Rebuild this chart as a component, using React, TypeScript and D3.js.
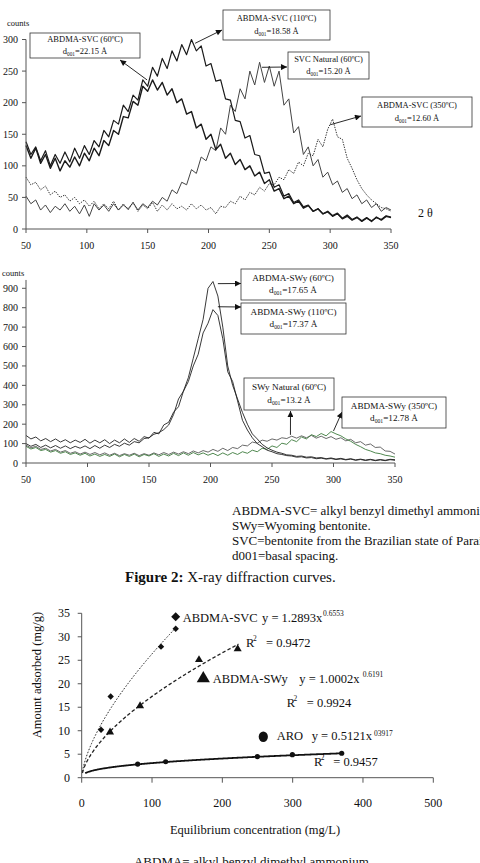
import * as d3 from "d3";

// 2θ sampling grid shared by every XRD trace
const twoTheta = d3.range(50, 351, 4);

// Figure 2, top: SVC samples (counts)
const svc60 = [132,112,128,104,118,96,112,92,108,98,114,100,120,108,128,116,140,132,156,150,178,176,202,196,226,218,236,220,232,212,222,200,206,182,186,160,166,142,150,126,134,112,120,102,110,94,100,84,90,72,78,60,64,48,52,40,44,33,37,28,32,24,28,21,25,17,22,15,19,13,18,12,19,14,20,18];
const svc110 = [138,118,130,108,124,100,118,104,122,106,128,112,132,118,140,130,156,146,172,166,196,186,212,204,236,226,256,242,270,254,282,266,292,276,300,282,290,258,262,234,236,206,204,172,170,144,148,118,116,88,90,66,70,52,56,42,46,35,38,28,32,24,27,20,24,16,20,14,18,12,17,13,18,15,21,19];
const svcNatural = [52,40,46,30,38,26,36,30,40,28,36,24,38,20,40,30,38,28,40,30,38,32,42,30,40,34,44,38,50,44,62,56,74,70,94,88,114,108,130,124,160,150,196,186,222,206,250,228,264,232,258,226,250,196,206,152,162,118,130,100,110,82,90,70,76,58,64,48,54,40,46,34,40,28,34,30];
const svc350 = [82,70,74,62,68,54,60,50,54,44,50,40,46,36,44,32,40,32,44,30,40,30,42,28,38,32,42,28,38,30,40,32,36,30,40,32,38,30,34,24,36,34,44,40,52,46,58,54,66,60,72,70,82,78,94,88,106,100,120,116,142,130,158,174,146,142,112,96,78,64,54,46,40,34,32,28];

// Figure 2, middle: SWy samples (counts)
const swy60 = [142,124,134,114,126,110,124,108,120,104,118,106,122,102,118,104,120,100,118,104,124,106,126,112,136,128,158,150,196,210,262,290,370,440,540,640,740,900,935,860,700,500,400,330,260,200,150,124,96,78,66,56,50,42,40,34,36,30,32,26,28,22,26,20,24,18,22,16,20,15,19,14,18,14,19,17];
const swy110 = [100,86,96,80,92,78,90,76,88,74,86,76,88,74,90,76,92,80,96,86,102,92,110,104,126,130,148,156,172,196,250,330,370,420,500,560,670,720,790,760,640,470,420,320,220,170,130,100,84,66,58,48,44,38,36,30,32,26,28,22,25,20,23,18,21,16,20,14,18,13,17,12,16,12,17,14];
const swyNatural = [92,78,86,70,76,62,70,56,64,50,58,46,56,44,54,42,52,40,50,38,48,40,50,38,48,40,52,42,54,44,56,46,58,48,62,52,64,56,70,60,76,64,80,74,92,88,108,102,118,112,124,118,130,126,138,128,140,130,142,128,138,126,136,122,130,114,122,104,110,92,98,80,82,62,60,46];
const swy350 = [86,72,80,64,70,56,64,50,58,44,52,40,50,36,46,34,44,34,46,32,44,34,46,32,44,36,48,34,46,36,50,38,52,40,54,42,52,40,50,38,52,40,54,44,58,50,66,58,76,70,88,80,102,96,120,110,134,124,146,136,152,140,162,150,140,124,112,96,84,70,62,52,48,40,36,30];

const xrdTicks = [50, 100, 150, 200, 250, 300, 350];
const svcCountTicks = [0, 50, 100, 150, 200, 250, 300];
const swyCountTicks = [0, 100, 200, 300, 400, 500, 600, 700, 800, 900];

// Figure 3: adsorption isotherms
const svcConc = [27.5, 41.2, 112.8, 133.7];
const svcAds = [10.2, 17.3, 27.9, 31.7];
const swyConc = [40.3, 83, 166.8, 221.8];
const swyAds = [9.7, 15.3, 25.1, 27.4];
const aroConc = [79.6, 119.4, 249.8, 299.6, 369.7];
const aroAds = [2.9, 3.4, 4.5, 4.9, 5.2];
const fitK = [1.2893, 1.0002, 0.5121];
const fitN = [0.6553, 0.6191, 0.3917];
const fitNLabel = ["0.6553", "0.6191", "03917"];
const fitR2 = ["0.9472", "0.9924", "0.9457"];
const fitMaxX = [136, 223, 372];
const concTicks = [0, 100, 200, 300, 400, 500];
const adsTicks = [0, 5, 10, 15, 20, 25, 30, 35];

const FONT = "'Liberation Serif', 'Times New Roman', serif";

function Tag({ x, y, w, h, title, d, fs }) {
  const cx = x + w / 2;
  const c = y + h / 2;
  return (
    <g>
      <rect x={x} y={y} width={w} height={h} fill="#fff" stroke="#333" strokeWidth={0.8} />
      <text x={cx} y={c - 4} textAnchor="middle" fontSize={fs}>{title}</text>
      <text x={cx} y={c + 8.5} textAnchor="middle" fontSize={fs}>
        d<tspan dy={2} fontSize={fs * 0.62}>001</tspan>
        <tspan dy={-2}>={d} Å</tspan>
      </text>
    </g>
  );
}

function Xrd({ top, bottom, right, ymax, yTicks, series, tags, arrows }) {
  const x = d3.scaleLinear().domain([50, 350]).range([26, right]);
  const y = d3.scaleLinear().domain([0, ymax[0]]).range([bottom, top]);
  const axisTop = y(ymax[1]);
  return (
    <g>
      {series.map((s, i) => {
        const line = d3
          .line<number>()
          .x((_, j) => x(twoTheta[j]))
          .y((v) => y(v));
        return (
          <path key={i} d={line(s.values) || ""} fill="none" stroke={s.color}
            strokeWidth={s.width} strokeDasharray={s.dash} strokeLinejoin="round" />
        );
      })}
      <line x1={26} x2={26} y1={bottom} y2={axisTop} stroke="#555" />
      <line x1={26} x2={right} y1={bottom} y2={bottom} stroke="#555" />
      {yTicks.map((t) => (
        <g key={"y" + t}>
          <line x1={22} x2={26} y1={y(t)} y2={y(t)} stroke="#555" />
          <text x={18} y={y(t) + 3.5} textAnchor="end" fontSize={10}>{t}</text>
        </g>
      ))}
      {xrdTicks.map((t) => (
        <g key={"x" + t}>
          <line x1={x(t)} x2={x(t)} y1={bottom} y2={bottom + 4} stroke="#555" />
          <text x={x(t)} y={bottom + 20} textAnchor="middle" fontSize={10}>{t}</text>
        </g>
      ))}
      {arrows.map((a, i) => (
        <line key={i} x1={x(a.from[0])} y1={y(a.from[1])} x2={a.to[0]} y2={a.to[1]}
          stroke="#111" strokeWidth={0.9} markerEnd="url(#ah)" />
      ))}
      {tags.map((t, i) => (
        <Tag key={i} {...t} />
      ))}
    </g>
  );
}

function Isotherm() {
  const x = d3.scaleLinear().domain([0, 500]).range([81.7, 433.3]);
  const y = d3.scaleLinear().domain([0, 35]).range([777.7, 613.3]);
  const fits = fitK.map((k, i) => {
    const xs = d3.range(i === 2 ? 5 : 1, fitMaxX[i] + 0.01, 1);
    return d3
      .line<number>()
      .x((c) => x(c))
      .y((c) => y(k * Math.pow(c, fitN[i])))(xs) || "";
  });
  const tri = d3.symbol(d3.symbolTriangle, 28)() || "";
  const bigTri = d3.symbol(d3.symbolTriangle, 75)() || "";
  return (
    <g>
      <path d={fits[0]} fill="none" stroke="#222" strokeWidth={1} strokeDasharray="1.6 1.6" />
      <path d={fits[1]} fill="none" stroke="#222" strokeWidth={1.3} strokeDasharray="3.5 2.2" />
      <path d={fits[2]} fill="none" stroke="#111" strokeWidth={1.8} />
      <line x1={x(0)} x2={x(0)} y1={y(0)} y2={y(35)} stroke="#555" />
      <line x1={x(0)} x2={x(500)} y1={y(0)} y2={y(0)} stroke="#555" />
      {adsTicks.map((t) => (
        <g key={"y" + t}>
          <line x1={x(0) - 4} x2={x(0)} y1={y(t)} y2={y(t)} stroke="#555" />
          <text x={70} y={y(t) + 4} textAnchor="end" fontSize={12}>{t}</text>
        </g>
      ))}
      {concTicks.map((t) => (
        <g key={"x" + t}>
          <line x1={x(t)} x2={x(t)} y1={y(0)} y2={y(0) + 5} stroke="#555" />
          <text x={x(t)} y={807} textAnchor="middle" fontSize={12}>{t}</text>
        </g>
      ))}
      {svcConc.map((c, i) => (
        <path key={"d" + i} d={`M0,-3.2L3.2,0L0,3.2L-3.2,0Z`}
          transform={`translate(${x(c)},${y(svcAds[i])})`} fill="#111" />
      ))}
      {swyConc.map((c, i) => (
        <path key={"t" + i} d={tri} transform={`translate(${x(c)},${y(swyAds[i])})`} fill="#111" />
      ))}
      {aroConc.map((c, i) => (
        <circle key={"c" + i} cx={x(c)} cy={y(aroAds[i])} r={2.6} fill="#111" />
      ))}
      <path d="M0,-4.5L4.5,0L0,4.5L-4.5,0Z" transform="translate(175.7,616.7)" fill="#111" />
      <path d={bigTri} transform="translate(203.3,678.5)" fill="#111" />
      <ellipse cx={263.3} cy={736.7} rx={4.6} ry={5.2} fill="#111" />
      <g fontSize={12.5}>
        <text x={182.7} y={621.5}>ABDMA-SVC</text>
        <text x={262} y={621.5}>y = {fitK[0]}x</text>
        <text x={323} y={616} fontSize={7.5}>{fitNLabel[0]}</text>
        <text x={246} y={647}>R</text>
        <text x={253} y={641} fontSize={7.5}>2</text>
        <text x={266} y={647}>= {fitR2[0]}</text>

        <text x={212.7} y={682.5}>ABDMA-SWy</text>
        <text x={299.3} y={682.5}>y = {fitK[1].toFixed(4)}x</text>
        <text x={362.7} y={677} fontSize={7.5}>{fitNLabel[1]}</text>
        <text x={286.7} y={707}>R</text>
        <text x={293.5} y={701} fontSize={7.5}>2</text>
        <text x={306.7} y={707}>= {fitR2[1]}</text>

        <text x={276.7} y={740}>ARO</text>
        <text x={311.7} y={740}>y = {fitK[2]}x</text>
        <text x={374} y={735.5} fontSize={7.5}>{fitNLabel[2]}</text>
        <text x={314} y={766}>R</text>
        <text x={320.8} y={760} fontSize={7.5}>2</text>
        <text x={333.3} y={766}>= {fitR2[2]}</text>
      </g>
      <text transform="translate(41,675) rotate(-90)" textAnchor="middle" fontSize={12.5}>
        Amount adsorbed (mg/g)
      </text>
      <text x={255} y={834} textAnchor="middle" fontSize={12.5}>
        Equilibrium concentration (mg/L)
      </text>
      <text x={253} y={866} textAnchor="middle" fontSize={13}>
        ABDMA= alkyl benzyl dimethyl ammonium.
      </text>
    </g>
  );
}

export default function App() {
  const dark = "#1a1a1a";
  return (
    <svg width={480} height={863} viewBox="0 0 480 863"
      style={{ position: "absolute", left: 0, top: 0, display: "block", background: "#fff" }}
      fontFamily={FONT} fill="#111">
      <defs>
        <marker id="ah" viewBox="0 0 10 10" refX={10} refY={5} markerWidth={7} markerHeight={6}
          markerUnits="userSpaceOnUse" orient="auto">
          <path d="M0,0L10,5L0,10Z" fill="#111" />
        </marker>
      </defs>
      <rect width={480} height={863} fill="#fff" />

      <text x={7} y={26} fontSize={8.5}>counts</text>
      <text x={418} y={217} fontSize={12}>2 θ</text>
      <Xrd
        top={39.5} bottom={229} right={391} ymax={[300, 300]} yTicks={svcCountTicks}
        series={[
          { values: svcNatural, color: "#444", width: 1, dash: null },
          { values: svc350, color: "#333", width: 1, dash: "1.4 1.2" },
          { values: svc60, color: dark, width: 1.4, dash: null },
          { values: svc110, color: dark, width: 1.2, dash: null },
        ]}
        arrows={[
          { from: [149.5, 236], to: [120, 60] },
          { from: [189, 294], to: [222, 30] },
          { from: [244, 256], to: [287, 67] },
          { from: [300, 165], to: [361, 116] },
        ]}
        tags={[
          { x: 30, y: 33, w: 110, h: 25, title: "ABDMA-SVC (60ºC)", d: "22.15", fs: 8.5 },
          { x: 223, y: 10, w: 107, h: 30, title: "ABDMA-SVC (110ºC)", d: "18.58", fs: 8.5 },
          { x: 288, y: 52, w: 81, h: 27, title: "SVC Natural (60ºC)", d: "15.20", fs: 8.5 },
          { x: 362, y: 97, w: 110, h: 30, title: "ABDMA-SVC (350ºC)", d: "12.60", fs: 8.5 },
        ]}
      />

      <text x={2} y={276} fontSize={8.5}>counts</text>
      <Xrd
        top={288.3} bottom={463} right={395} ymax={[900, 943]} yTicks={swyCountTicks}
        series={[
          { values: swyNatural, color: "#444", width: 0.8, dash: null },
          { values: swy350, color: "#3c7a3c", width: 0.9, dash: null },
          { values: swy110, color: "#222", width: 0.9, dash: null },
          { values: swy60, color: "#222", width: 0.9, dash: null },
        ]}
        arrows={[
          { from: [206, 924], to: [241, 283.5] },
          { from: [206, 805], to: [241, 307] },
          { from: [265, 145], to: [290.5, 411] },
          { from: [300, 165], to: [342, 412] },
        ]}
        tags={[
          { x: 241, y: 269, w: 104, h: 31, title: "ABDMA-SWy (60ºC)", d: "17.65", fs: 9.2 },
          { x: 241, y: 303, w: 105, h: 31, title: "ABDMA-SWy (110ºC)", d: "17.37", fs: 9.2 },
          { x: 244, y: 378, w: 90, h: 32, title: "SWy Natural (60ºC)", d: "13.2", fs: 9.2 },
          { x: 342, y: 397, w: 104, h: 31, title: "ABDMA-SWy (350ºC)", d: "12.78", fs: 9.2 },
        ]}
      />

      <g fontSize={13}>
        <text x={232} y={515}>ABDMA-SVC= alkyl benzyl dimethyl ammonium.</text>
        <text x={232} y={530}>SWy=Wyoming bentonite.</text>
        <text x={232} y={545}>SVC=bentonite from the Brazilian state of Paraíba.</text>
        <text x={232} y={560}>d001=basal spacing.</text>
      </g>
      <text x={125} y={582} fontSize={15}>
        <tspan fontWeight="bold">Figure 2:</tspan> X-ray diffraction curves.
      </text>

      <Isotherm />
    </svg>
  );
}
